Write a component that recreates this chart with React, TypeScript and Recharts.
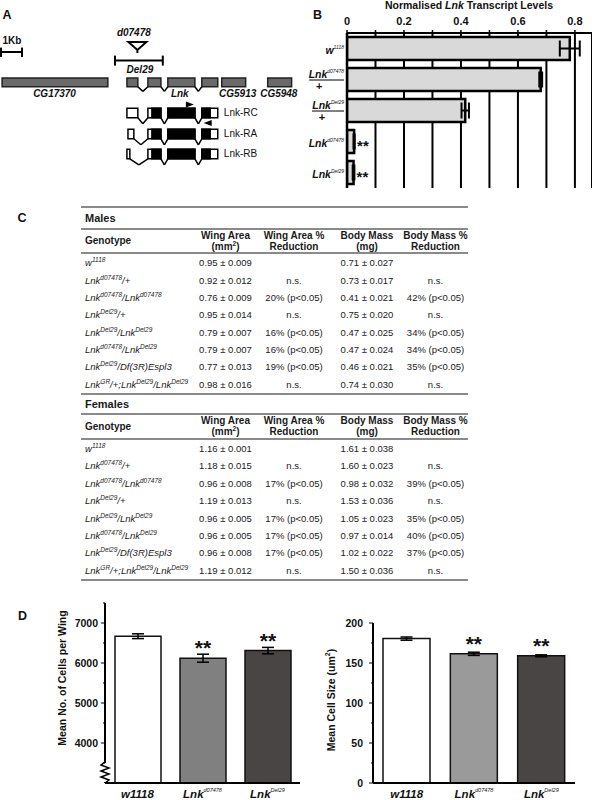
import React from 'react';
import {
  BarChart, Bar, XAxis, YAxis, CartesianGrid, ErrorBar, Cell, LabelList, Label,
  ComposedChart, ReferenceArea, ReferenceLine, ReferenceDot,
} from 'recharts';

const FONT = '"Liberation Sans", Arial, Helvetica, sans-serif';

// ---------- A: Lnk locus (positions in kb) ----------
const neighbourGenes = ['CG17370', 'CG5913', 'CG5948'];
const neighbourStart = [0.1, 10.57, 12.76];
const neighbourEnd = [5.14, 11.71, 13.9];
const neighbourLabelAt = [2.6, 11.33, 13.29];
const lnkExonStart = [6.05, 7.05, 8.0, 9.62];
const lnkExonEnd = [6.57, 7.67, 9.29, 10.38];
const transcripts = ['Lnk-RC', 'Lnk-RA', 'Lnk-RB'];
const firstExonStart = [6.05, 6.1, 6.05];
const firstExonEnd = [6.57, 6.38, 6.19];
const cdsStart = 7.24;
const cdsEnd = 10.02;
const insertionAt = 6.55;
const del29 = [5.48, 7.76];

// track rows (20px each)
const geneRow = 4.12;
const transcriptRow = [5.65, 6.7, 7.7];

// ---------- B: qPCR ----------
const bGenotypes = ['w1118', 'd07478/+', 'Del29/+', 'd07478', 'Del29'];
const bAllele = ['1118', 'd07478', 'Del29', 'd07478', 'Del29'];
const bLevels = [0.782, 0.68, 0.415, 0.025, 0.023];
const bErrors = [0.035, 0.005, 0.013, 0.002, 0.003];
const bSignif = ['', '', '', '**', '**'];
const bTicks = [0, 0.1, 0.2, 0.3, 0.4, 0.5, 0.6, 0.7, 0.8];
const bLabelled = [0, 0.2, 0.4, 0.6, 0.8];

// ---------- C: table ----------
const tableGenotypes = [
  'w^{1118}', 'Lnk^{d07478}/+', 'Lnk^{d07478}/Lnk^{d07478}', 'Lnk^{Del29}/+',
  'Lnk^{Del29}/Lnk^{Del29}', 'Lnk^{d07478}/Lnk^{Del29}', 'Lnk^{Del29}/Df(3R)Espl3',
  'Lnk^{GR}/+;Lnk^{Del29}/Lnk^{Del29}',
];
const malesWing = ['0.95 ± 0.009', '0.92 ± 0.012', '0.76 ± 0.009', '0.95 ± 0.014', '0.79 ± 0.007', '0.79 ± 0.007', '0.77 ± 0.013', '0.98 ± 0.016'];
const malesWingRed = ['', 'n.s.', '20% (p<0.05)', 'n.s.', '16% (p<0.05)', '16% (p<0.05)', '19% (p<0.05)', 'n.s.'];
const malesMass = ['0.71 ± 0.027', '0.73 ± 0.017', '0.41 ± 0.021', '0.75 ± 0.020', '0.47 ± 0.025', '0.47 ± 0.024', '0.46 ± 0.021', '0.74 ± 0.030'];
const malesMassRed = ['', 'n.s.', '42% (p<0.05)', 'n.s.', '34% (p<0.05)', '34% (p<0.05)', '35% (p<0.05)', 'n.s.'];
const femalesWing = ['1.16 ± 0.001', '1.18 ± 0.015', '0.96 ± 0.008', '1.19 ± 0.013', '0.96 ± 0.005', '0.96 ± 0.005', '0.96 ± 0.008', '1.19 ± 0.012'];
const femalesWingRed = ['', 'n.s.', '17% (p<0.05)', 'n.s.', '17% (p<0.05)', '17% (p<0.05)', '17% (p<0.05)', 'n.s.'];
const femalesMass = ['1.61 ± 0.038', '1.60 ± 0.023', '0.98 ± 0.032', '1.53 ± 0.036', '1.05 ± 0.023', '0.97 ± 0.014', '1.02 ± 0.022', '1.50 ± 0.036'];
const femalesMassRed = ['', 'n.s.', '39% (p<0.05)', 'n.s.', '35% (p<0.05)', '40% (p<0.05)', '37% (p<0.05)', 'n.s.'];

// ---------- D: wing cells ----------
const dGenotypes = ['w1118', 'd07478', 'Del29'];
const cellsPerWing = [6670, 6120, 6310];
const cellsPerWingErr = [60, 100, 80];
const cellSize = [180.5, 161.5, 159];
const cellSizeErr = [2, 2, 1.2];
const dSignif = ['', '**', '**'];
const cellsTicks = [3000, 3500, 4000, 4500, 5000, 5500, 6000, 6500, 7000, 7500];
const sizeTicks = [0, 25, 50, 75, 100, 125, 150, 175, 200];

const bData = bGenotypes.map((g, i) => ({ genotype: g, level: bLevels[i], err: bErrors[i], sig: bSignif[i] }));
const cellsData = dGenotypes.map((g, i) => ({ genotype: g, value: cellsPerWing[i], err: cellsPerWingErr[i], sig: dSignif[i] }));
const sizeData = dGenotypes.map((g, i) => ({ genotype: g, value: cellSize[i], err: cellSizeErr[i], sig: dSignif[i] }));

const txt = (p: any) => ({ fontFamily: FONT, fill: '#111', ...p });

function textDot(key: string, x: number, y: number, content: React.ReactNode, props: any) {
  return (
    <ReferenceDot key={key} x={x} y={y} r={0} ifOverflow="visible"
      shape={(p: any) => <text x={p.cx} y={p.cy} {...txt(props)}>{content}</text>} />
  );
}

function seg(key: string, x1: number, y1: number, x2: number, y2: number, w = 1.5) {
  return <ReferenceLine key={key} segment={[{ x: x1, y: y1 }, { x: x2, y: y2 }]} stroke="#000" strokeWidth={w} ifOverflow="visible" />;
}

function box(key: string, x1: number, x2: number, y1: number, y2: number, fill: string, stroke = '#000') {
  return <ReferenceArea key={key} x1={x1} x2={x2} y1={y1} y2={y2} fill={fill} fillOpacity={1} stroke={stroke} strokeWidth={1.5} ifOverflow="visible" />;
}

function GeneModel() {
  const els: React.ReactNode[] = [];
  // scale bar
  els.push(seg('sb', 0.05, 2.6, 1.05, 2.6, 2), seg('sb1', 0.05, 2.38, 0.05, 2.85, 2), seg('sb2', 1.05, 2.38, 1.05, 2.85, 2));
  els.push(textDot('kb', 0.12, 2.2, '1Kb', { fontSize: 10, fontWeight: 'bold' }));
  // deletion and insertion
  els.push(seg('del', del29[0], 3.03, del29[1], 3.03, 2), seg('del1', del29[0], 2.78, del29[0], 3.28, 2), seg('del2', del29[1], 2.78, del29[1], 3.28, 2));
  els.push(textDot('dl', 6.67, 3.64, 'Del29', { fontSize: 10, fontWeight: 'bold', fontStyle: 'italic', textAnchor: 'middle' }));
  els.push(textDot('ins', 6.38, 1.8, 'd07478', { fontSize: 10, fontWeight: 'bold', fontStyle: 'italic', textAnchor: 'middle' }));
  els.push(
    <ReferenceDot key="tri" x={insertionAt} y={2.3} r={0} ifOverflow="visible"
      shape={(p: any) => (
        <path d={`M${p.cx - 9},${p.cy - 4} L${p.cx + 9},${p.cy - 4} L${p.cx},${p.cy + 4} Z M${p.cx},${p.cy + 4} L${p.cx},${p.cy + 7}`}
          fill="#fff" stroke="#000" strokeWidth={2} strokeLinejoin="miter" />
      )} />,
  );
  // neighbouring genes
  neighbourGenes.forEach((g, i) => {
    els.push(box('g' + i, neighbourStart[i], neighbourEnd[i], geneRow - 0.22, geneRow + 0.22, '#6a6a6a', '#222'));
    els.push(textDot('gl' + i, neighbourLabelAt[i], 4.83, g, { fontSize: 10, fontWeight: 'bold', fontStyle: 'italic', textAnchor: 'middle' }));
  });
  // Lnk gene
  lnkExonStart.forEach((s, i) => {
    els.push(box('le' + i, s, lnkExonEnd[i], geneRow - 0.22, geneRow + 0.22, '#6a6a6a', '#222'));
    if (i < lnkExonStart.length - 1) {
      const a = lnkExonEnd[i];
      const b = lnkExonStart[i + 1];
      const m = (a + b) / 2;
      els.push(seg('li' + i, a, geneRow + 0.22, m, geneRow + 0.45), seg('lj' + i, m, geneRow + 0.45, b, geneRow + 0.22));
    }
  });
  els.push(textDot('lnk', 8.57, 4.83, 'Lnk', { fontSize: 10, fontWeight: 'bold', fontStyle: 'italic', textAnchor: 'middle' }));
  // transcripts
  transcripts.forEach((t, k) => {
    const yc = transcriptRow[k];
    const y1 = yc - 0.24;
    const y2 = yc + 0.24;
    const starts = [firstExonStart[k], ...lnkExonStart.slice(1)];
    const ends = [firstExonEnd[k], ...lnkExonEnd.slice(1)];
    starts.forEach((s, i) => {
      const e = ends[i];
      els.push(box(`t${k}e${i}`, s, e, y1, y2, '#fff'));
      const cs = Math.max(s, cdsStart);
      const ce = Math.min(e, cdsEnd);
      if (ce > cs) els.push(box(`t${k}c${i}`, cs, ce, y1, y2, '#000'));
      if (i < starts.length - 1) {
        const b = starts[i + 1];
        const m = (e + b) / 2;
        els.push(seg(`t${k}i${i}`, e, y2, m, y2 + 0.3), seg(`t${k}j${i}`, m, y2 + 0.3, b, y2));
      }
    });
    els.push(textDot('tl' + k, 10.67, yc + 0.17, t, { fontSize: 10, textAnchor: 'start' }));
  });
  // qPCR primers
  els.push(
    <ReferenceDot key="fw" x={9.05} y={5.23} r={0} ifOverflow="visible"
      shape={(p: any) => <path d={`M${p.cx - 4},${p.cy - 3} L${p.cx + 4},${p.cy} L${p.cx - 4},${p.cy + 3} Z`} fill="#000" />} />,
    <ReferenceDot key="rv" x={9.9} y={6.15} r={0} ifOverflow="visible"
      shape={(p: any) => <path d={`M${p.cx + 4},${p.cy - 3} L${p.cx - 4},${p.cy} L${p.cx + 4},${p.cy + 3} Z`} fill="#000" />} />,
  );
  return (
    <ComposedChart width={300} height={170} margin={{ top: 0, right: 0, bottom: 0, left: 0 }} data={[{ kb: 0, row: 0 }]}>
      <XAxis type="number" dataKey="kb" domain={[0, 14.3]} hide allowDataOverflow />
      <YAxis type="number" dataKey="row" domain={[0, 8.5]} reversed hide allowDataOverflow />
      {els}
    </ComposedChart>
  );
}

// ---------- B ----------
function BTick(props: any) {
  const { x, y, payload } = props;
  const i = bGenotypes.indexOf(payload.value);
  const sup = bAllele[i];
  const base = i === 0 ? 'w' : 'Lnk';
  const het = bGenotypes[i].endsWith('/+');
  const baseW = i === 0 ? 8.2 : 18;
  const supW = sup.length * 2.8;
  const left = x - baseW - supW;
  const by = het ? y - 2 : y + 5;
  return (
    <g>
      <text x={x} y={by} textAnchor="end" {...txt({ fontSize: 10.5, fontWeight: 'bold', fontStyle: 'italic' })}>
        {base}
        <tspan fontSize={5} fontWeight="normal" dy={-5}>{sup}</tspan>
      </text>
      {het && <line x1={left} x2={x} y1={y + 0.5} y2={y + 0.5} stroke="#000" strokeWidth={1} />}
      {het && <text x={left + 10} y={y + 10} textAnchor="middle" {...txt({ fontSize: 11, fontWeight: 'bold' })}>+</text>}
    </g>
  );
}

function SideStars(props: any) {
  const { x, y, width, height, value } = props;
  if (!value) return null;
  return <text x={x + width + 3} y={y + height / 2 + 9} {...txt({ fontSize: 15, fontWeight: 'bold' })}>{value}</text>;
}

function TranscriptChart() {
  return (
    <BarChart layout="vertical" width={302} height={195} data={bData} barSize={23}
      margin={{ top: 0, right: 0, bottom: 7, left: 0 }}>
      <CartesianGrid horizontal={false} stroke="#000" strokeWidth={2} />
      <XAxis type="number" orientation="top" domain={[0, 0.86]} ticks={bTicks} interval={0} allowDataOverflow
        height={33} tickSize={3} tickMargin={5}
        tickFormatter={(v: number) => (bLabelled.includes(v) ? String(v) : '')}
        axisLine={{ stroke: '#000', strokeWidth: 2 }} tickLine={{ stroke: '#000', strokeWidth: 1.5 }}
        tick={{ fontSize: 11, fontWeight: 'bold', fill: '#111', fontFamily: FONT }} />
      <YAxis type="category" dataKey="genotype" width={57} interval={0} tickSize={0} tickMargin={3}
        axisLine={{ stroke: '#000', strokeWidth: 2.5 }} tickLine={false} tick={<BTick />} />
      <Bar dataKey="level" fill="#d9d9d9" stroke="#000" strokeWidth={2.5} isAnimationActive={false}>
        <ErrorBar dataKey="err" direction="x" width={8} stroke="#000" strokeWidth={2} />
        <LabelList dataKey="sig" content={SideStars} />
      </Bar>
    </BarChart>
  );
}

// ---------- D ----------
function TopStars(props: any) {
  const { x, y, width, value } = props;
  if (!value) return null;
  return <text x={x + width / 2} y={y - 3} textAnchor="middle" {...txt({ fontSize: 21, fontWeight: 'bold' })}>{value}</text>;
}

function GenotypeTick(props: any) {
  const { x, y, payload } = props;
  const g = payload.value;
  const style = txt({ fontSize: 11.5, fontWeight: 'bold', fontStyle: 'italic', textAnchor: 'middle' });
  if (g === 'w1118') return <text x={x} y={y + 15} {...style}>w1118</text>;
  return (
    <text x={x} y={y + 15} {...style}>
      Lnk<tspan fontSize={5.5} fontWeight="normal" dy={-6}>{g}</tspan>
    </text>
  );
}

function makeValueTick(major: number, gap: number, breakAt?: number) {
  return (props: any) => {
    const { x, y, payload } = props;
    const v = payload.value;
    if (breakAt !== undefined && v === breakAt) {
      return (
        <g>
          <rect x={x - 2} y={y - 20} width={4} height={19} fill="#fff" />
          <path d={`M${x},${y - 21} L${x - 4},${y - 18} L${x + 4},${y - 15} L${x - 4},${y - 12} L${x + 4},${y - 9} L${x - 4},${y - 6} L${x + 4},${y - 3} L${x},${y}`}
            fill="none" stroke="#000" strokeWidth={1.5} />
        </g>
      );
    }
    const isMajor = v % major === 0;
    return (
      <g>
        <line x1={x - (isMajor ? 4 : 2)} x2={x} y1={y} y2={y} stroke="#000" strokeWidth={1} />
        {isMajor && (
          <text x={x - gap} y={y + 4} textAnchor="end" {...txt({ fontSize: 10.5, fontWeight: 'bold' })}>{v}</text>
        )}
      </g>
    );
  };
}

function yTitle(text: React.ReactNode, dx: number, dy: number) {
  return (props: any) => {
    const vb = props.viewBox || { x: 0, y: 0, width: 0, height: 0 };
    const cx = vb.x + dx;
    const cy = vb.y + vb.height / 2 + dy;
    return (
      <text x={cx} y={cy} transform={`rotate(-90 ${cx} ${cy})`} textAnchor="middle" dominantBaseline="central"
        {...txt({ fontSize: 10.5, fontWeight: 'bold' })}>{text}</text>
    );
  };
}

const cellsFill = ['#ffffff', '#808080', '#4a4545'];
const sizeFill = ['#ffffff', '#9a9a9a', '#4a4545'];

function CellsChart() {
  return (
    <BarChart width={260} height={205} data={cellsData} barSize={46} margin={{ top: 8, right: 0, bottom: 0, left: 0 }}>
      <XAxis dataKey="genotype" height={17} tickSize={0} tickMargin={0} interval={0} tickLine={false}
        axisLine={{ stroke: '#000', strokeWidth: 2 }} tick={<GenotypeTick />} />
      <YAxis type="number" domain={[3000, 7500]} ticks={cellsTicks} interval={0} allowDataOverflow width={65}
        tickSize={0} tickMargin={0} tickLine={false} axisLine={{ stroke: '#000', strokeWidth: 2 }}
        tick={makeValueTick(1000, 7, 3000)}>
        <Label content={yTitle('Mean No. of Cells per Wing', 22, -15)} />
      </YAxis>
      <Bar dataKey="value" stroke="#111" strokeWidth={1.5} isAnimationActive={false}>
        {cellsData.map((d, i) => <Cell key={d.genotype} fill={cellsFill[i]} />)}
        <ErrorBar dataKey="err" direction="y" width={6} stroke="#000" strokeWidth={1.5} />
        <LabelList dataKey="sig" content={TopStars} />
      </Bar>
    </BarChart>
  );
}

function SizeChart() {
  return (
    <BarChart width={275} height={205} data={sizeData} barSize={47} margin={{ top: 28, right: 0, bottom: 0, left: 0 }}>
      <XAxis dataKey="genotype" height={17} tickSize={0} tickMargin={0} interval={0} tickLine={false}
        axisLine={{ stroke: '#000', strokeWidth: 2 }} tick={<GenotypeTick />} />
      <YAxis type="number" domain={[0, 200]} ticks={sizeTicks} interval={0} allowDataOverflow width={73}
        tickSize={0} tickMargin={0} tickLine={false} axisLine={{ stroke: '#000', strokeWidth: 2 }}
        tick={makeValueTick(50, 10)}>
        <Label content={yTitle(<>Mean Cell Size (um<tspan fontSize={7} dy={-4}>2</tspan><tspan dy={4}>)</tspan></>, 31, -3)} />
      </YAxis>
      <Bar dataKey="value" stroke="#111" strokeWidth={1.5} isAnimationActive={false}>
        {sizeData.map((d, i) => <Cell key={d.genotype} fill={sizeFill[i]} />)}
        <ErrorBar dataKey="err" direction="y" width={6} stroke="#000" strokeWidth={1.5} />
        <LabelList dataKey="sig" content={TopStars} />
      </Bar>
    </BarChart>
  );
}

// ---------- C ----------
function Genotype({ label }: { label: string }) {
  const parts = label.split(/(\^\{[^}]*\})/).filter(Boolean);
  return (
    <span style={{ fontStyle: 'italic' }}>
      {parts.map((p, i) =>
        p.startsWith('^{')
          ? <span key={i} style={{ fontSize: 6.5, position: 'relative', top: -4 }}>{p.slice(2, -1)}</span>
          : <span key={i}>{p}</span>,
      )}
    </span>
  );
}

const COLS = [113, 63, 74, 72, 65];
const rule = (h = 2) => <div style={{ height: h, background: '#8a8a8a' }} />;

function Section(props: { title: string; titleH: number; headH: number; rowH: number; wing: string[]; wingRed: string[]; mass: string[]; massRed: string[] }) {
  const { title, titleH, headH, rowH, wing, wingRed, mass, massRed } = props;
  const head = ['Genotype', <>Wing Area<br />(mm<sup style={{ fontSize: 6.5, lineHeight: 0 }}>2</sup>)</>, <>Wing Area %<br />Reduction</>, <>Body Mass<br />(mg)</>, <>Body Mass %<br />Reduction</>];
  const cell = (w: number, c: React.ReactNode, left: boolean, k: number) => (
    <div key={k} style={{ width: w, textAlign: left ? 'left' : 'center', paddingLeft: left ? 4 : 0, boxSizing: 'border-box', whiteSpace: 'nowrap' }}>{c}</div>
  );
  return (
    <div>
      <div style={{ height: titleH, display: 'flex', alignItems: 'center', paddingLeft: 4, fontWeight: 'bold', fontSize: 11 }}>{title}</div>
      {rule()}
      <div style={{ height: headH, display: 'flex', alignItems: 'center', fontWeight: 'bold', fontSize: 10, lineHeight: '11.5px' }}>
        {head.map((h, k) => cell(COLS[k], h, k === 0, k))}
      </div>
      {rule()}
      {tableGenotypes.map((g, r) => (
        <div key={g} style={{ height: rowH, display: 'flex', alignItems: 'center', fontSize: 9.5 }}>
          {cell(COLS[0], <Genotype label={g} />, true, 0)}
          {cell(COLS[1], wing[r], false, 1)}
          {cell(COLS[2], wingRed[r], false, 2)}
          {cell(COLS[3], mass[r], false, 3)}
          {cell(COLS[4], massRed[r], false, 4)}
        </div>
      ))}
      {rule()}
    </div>
  );
}

function SizeTable() {
  return (
    <div style={{ width: 387, color: '#1a1a1a', fontFamily: FONT }}>
      {rule()}
      <Section title="Males" titleH={20} headH={22} rowH={17.35} wing={malesWing} wingRed={malesWingRed} mass={malesMass} massRed={malesMassRed} />
      <Section title="Females" titleH={18} headH={23} rowH={17.4} wing={femalesWing} wingRed={femalesWingRed} mass={femalesMass} massRed={femalesMassRed} />
    </div>
  );
}

const abs = (left: number, top: number): React.CSSProperties => ({ position: 'absolute', left, top });

export default function App() {
  return (
    <div style={{ position: 'absolute', left: 0, top: 0, width: 592, height: 800, background: '#fff', overflow: 'hidden', fontFamily: FONT }}>
      <div style={abs(0, 0)}><GeneModel /></div>
      <div style={abs(290, 0)}><TranscriptChart /></div>
      <div style={abs(81, 206)}><SizeTable /></div>
      <div style={abs(40, 595)}><CellsChart /></div>
      <div style={abs(300, 595)}><SizeChart /></div>
      <svg width={592} height={800} style={{ position: 'absolute', left: 0, top: 0, pointerEvents: 'none' }}>
        <g {...txt({ fontSize: 12.5, fontWeight: 'bold' })}>
          <text x={2.5} y={18.5}>A</text>
          <text x={313} y={18.5}>B</text>
          <text x={17.5} y={222}>C</text>
          <text x={18} y={620}>D</text>
        </g>
        <text x={469} y={8.5} textAnchor="middle" {...txt({ fontSize: 10.5, fontWeight: 'bold' })}>
          Normalised <tspan fontStyle="italic">Lnk</tspan> Transcript Levels
        </text>
      </svg>
    </div>
  );
}
